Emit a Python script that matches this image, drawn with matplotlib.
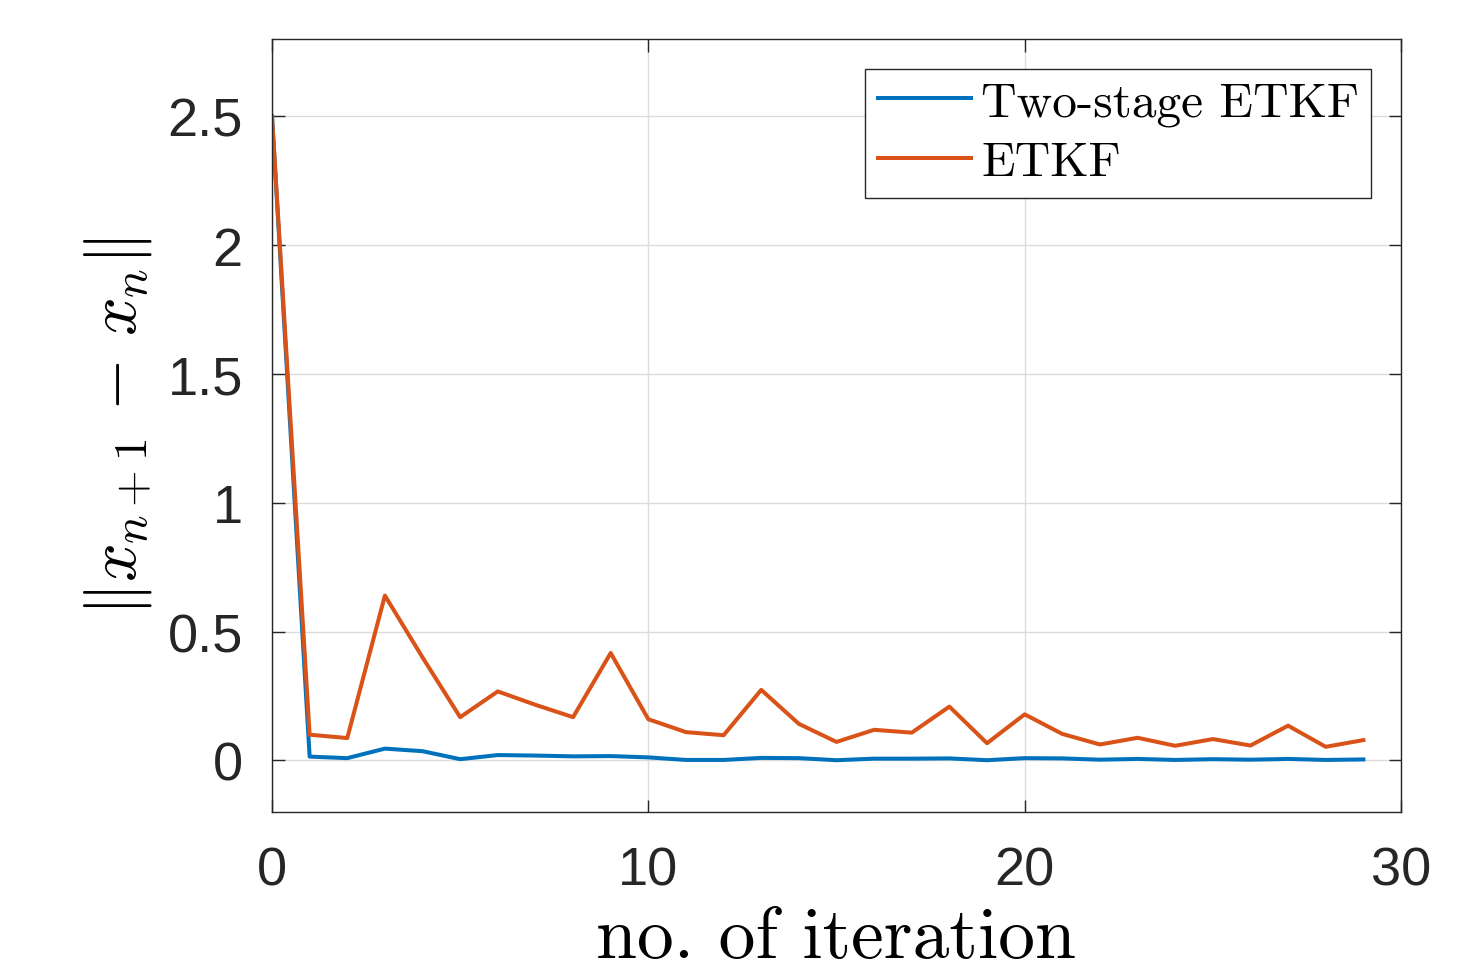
import matplotlib
matplotlib.use("Agg")
import matplotlib.pyplot as plt
import numpy as np

# iteration numbers and step sizes
iterations = list(range(30))
two_stage = [2.5, 0.015, 0.009, 0.046, 0.036, 0.005, 0.021, 0.019, 0.016, 0.017,
             0.012, 0.002, 0.002, 0.010, 0.009, 0.001, 0.007, 0.007, 0.008, 0.001,
             0.009, 0.008, 0.003, 0.006, 0.002, 0.005, 0.003, 0.006, 0.002, 0.004]
etkf = [2.5, 0.100, 0.087, 0.640, 0.400, 0.168, 0.268, 0.216, 0.168, 0.417,
        0.160, 0.110, 0.098, 0.274, 0.142, 0.072, 0.119, 0.108, 0.209, 0.067,
        0.179, 0.103, 0.062, 0.088, 0.057, 0.083, 0.058, 0.135, 0.053, 0.079]
series_labels = ['Two-stage ETKF', 'ETKF']
xticks = [0, 10, 20, 30]
yticks = [0, 0.5, 1, 1.5, 2, 2.5]
ytick_labels = ['0', '0.5', '1', '1.5', '2', '2.5']

plt.rcParams['mathtext.fontset'] = 'cm'
plt.rcParams['font.family'] = ['Liberation Sans', 'DejaVu Sans']

fig = plt.figure(figsize=(14.63, 9.70), dpi=100)
ax = fig.add_axes([272 / 1463, 1 - 813 / 970, (1401 - 272) / 1463, (813 - 40) / 970])

ax.plot(iterations, two_stage, color='#0072BD', lw=2.9, label=series_labels[0])
ax.plot(iterations, etkf, color='#D95319', lw=2.9, label=series_labels[1])

ax.set_xlim(0, 30)
ax.set_ylim(-0.2, 2.8)
ax.set_xticks(xticks)
ax.set_yticks(yticks)
ax.set_yticklabels(ytick_labels)
ax.grid(True, color='#dcdcdc', lw=1)
ax.set_axisbelow(True)

ax.tick_params(direction='in', top=True, right=True, length=9, width=1,
               colors='#262626', labelsize=39)
ax.tick_params(axis='x', pad=24)
ax.tick_params(axis='y', pad=21)
for s in ax.spines.values():
    s.set_color('#262626')
    s.set_linewidth(1)

ax.set_xlabel('no. of iteration', family='cmr10', fontsize=53, labelpad=8)
ax.set_ylabel(r'$\|x_{n+1}\,-\,x_n\|$', fontsize=49, labelpad=10)

leg = ax.legend(loc='upper right', prop={'family': 'cmr10', 'size': 35.5},
                fancybox=False, framealpha=1, edgecolor='#262626',
                borderaxespad=0.6, handlelength=1.9, handletextpad=0.2,
                labelspacing=0.3, borderpad=0.25)
leg.get_frame().set_linewidth(1)

fig.savefig('out.png', dpi=100)
